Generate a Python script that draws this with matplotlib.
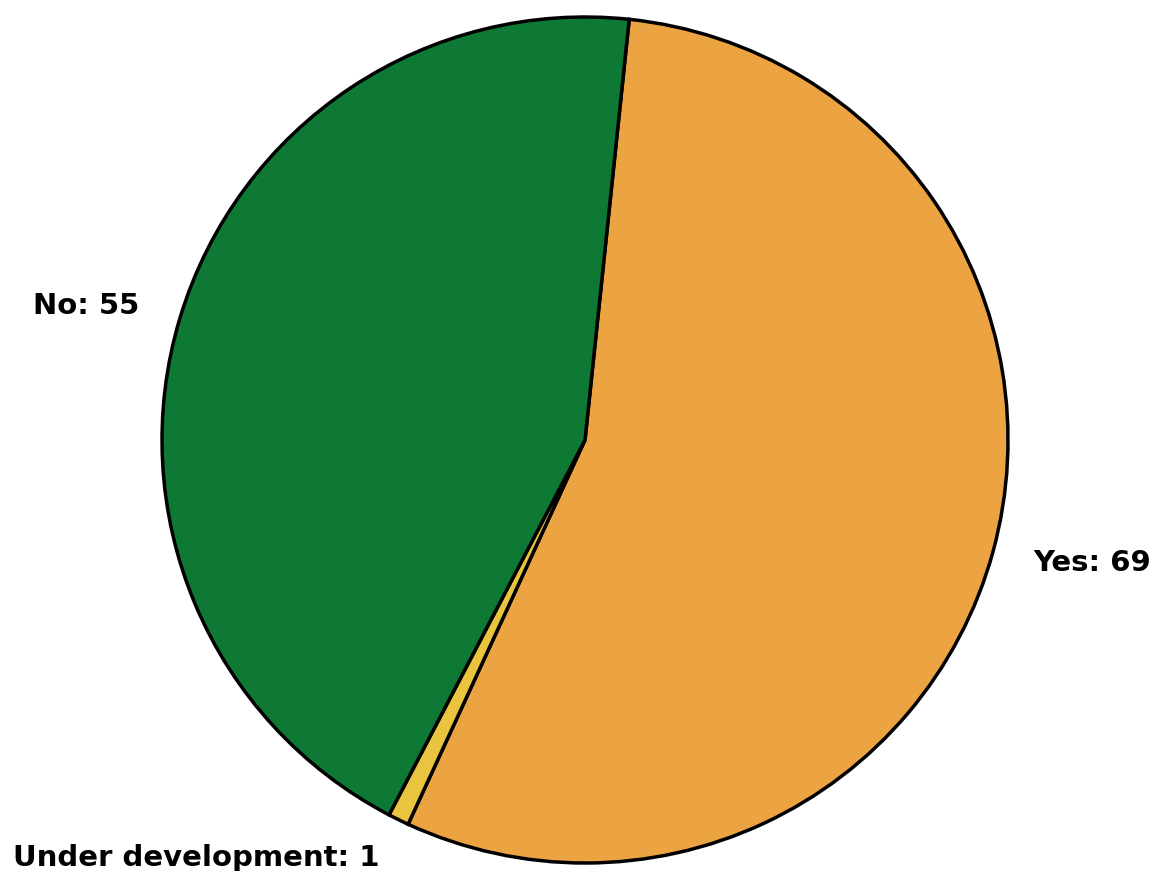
import matplotlib
matplotlib.use("Agg")
import matplotlib.pyplot as plt

# survey answers
labels = ['Yes', 'Under development', 'No']
counts = [69, 1, 55]
colors = ['#ECA341', '#E9C43E', '#0E7934']

fig = plt.figure(figsize=(11.53, 8.71), dpi=100)
ax = fig.add_axes([0, 0, 1, 1])

pie_labels = [f'{l}: {c}' for l, c in zip(labels, counts)]
wedges, texts = ax.pie(counts, labels=pie_labels, colors=colors, startangle=84,
                       counterclock=False, labeldistance=1.1,
                       wedgeprops={'edgecolor': 'black', 'linewidth': 2.5},
                       textprops={'fontsize': 21, 'fontweight': 'bold'})

ax.set_xlim(-585 / 423, (1153 - 585) / 423)
ax.set_ylim(-431 / 423, 440 / 423)
ax.set_aspect('equal')
ax.axis('off')

fig.savefig('out.png', dpi=100)
